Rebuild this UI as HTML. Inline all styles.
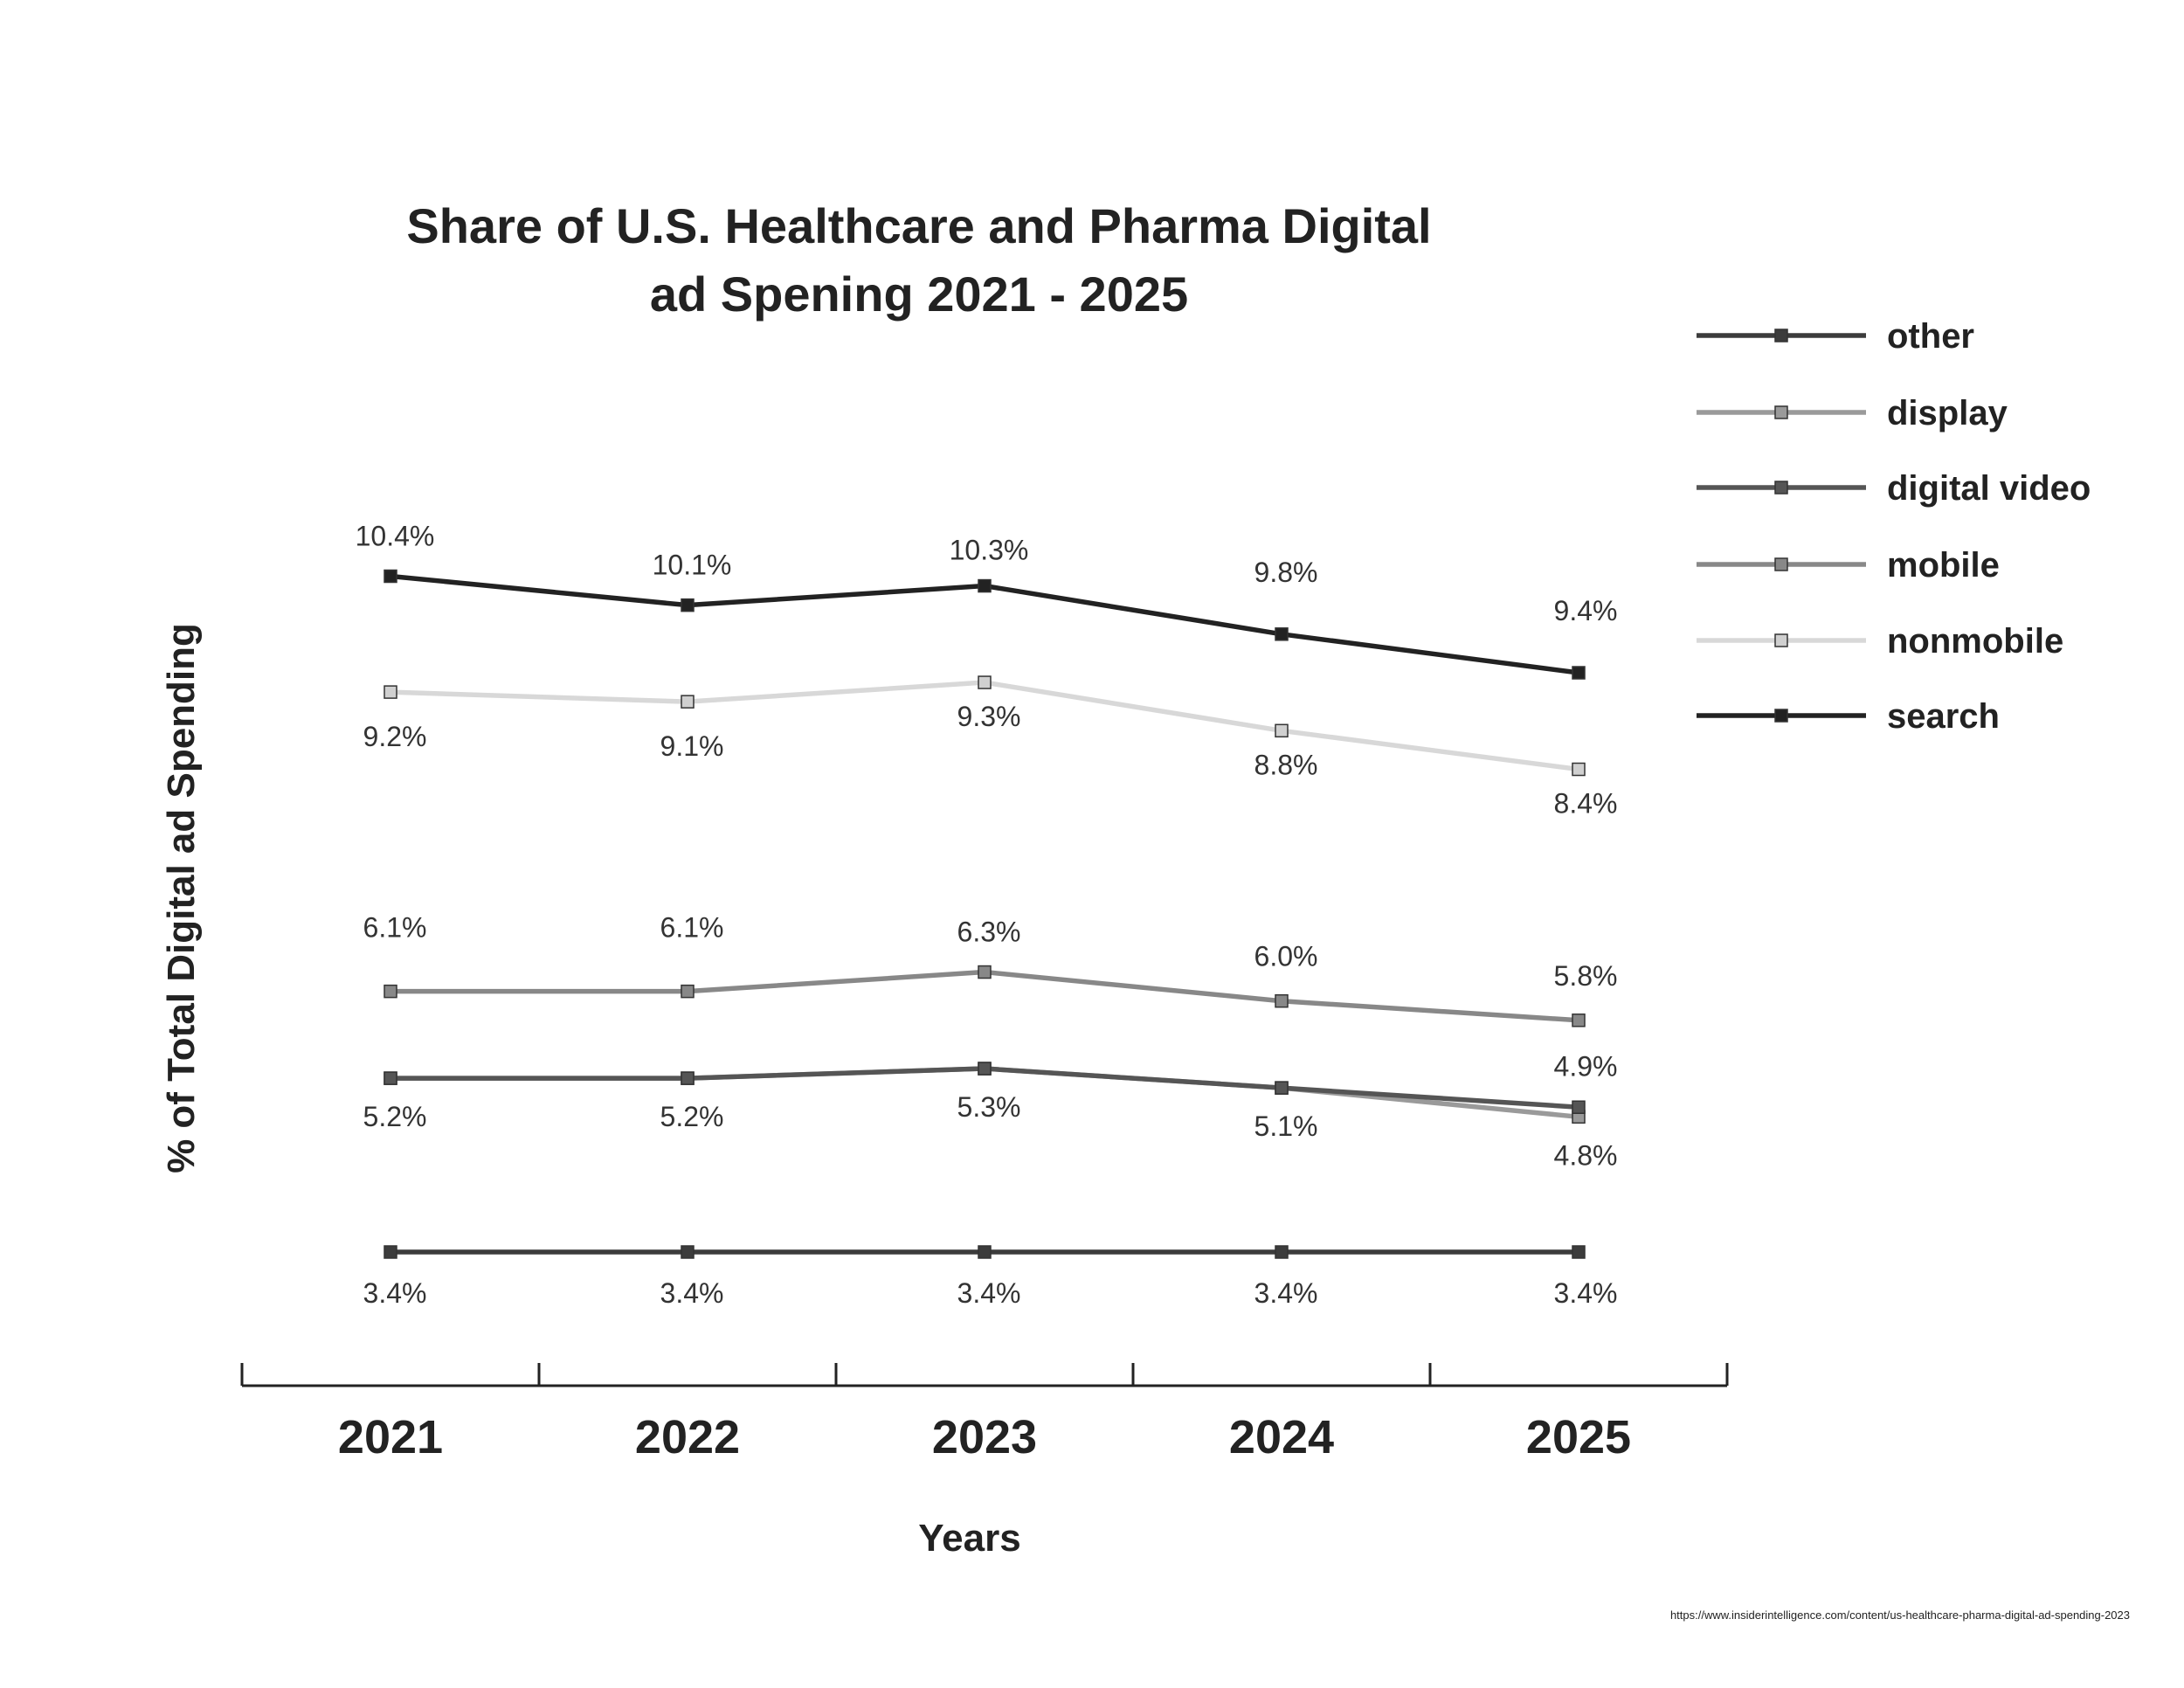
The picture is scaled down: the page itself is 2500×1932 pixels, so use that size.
<!DOCTYPE html>
<html><head><meta charset="utf-8"><style>
body{margin:0;background:#fff;}
svg{display:block;font-family:"Liberation Sans",sans-serif;}
</style></head><body>
<svg id="chart" width="2500" height="1932" viewBox="0 0 2500 1932">
<rect width="2500" height="1932" fill="#fff"/>
<text x="1052" y="278" text-anchor="middle" font-size="56" font-weight="bold" fill="#222">Share of U.S. Healthcare and Pharma Digital</text>
<text x="1052" y="356" text-anchor="middle" font-size="56" font-weight="bold" fill="#222">ad Spening 2021 - 2025</text>
<text transform="translate(222,1028) rotate(-90)" text-anchor="middle" font-size="44" font-weight="bold" fill="#222">% of Total Digital ad Spending</text>
<text x="1110" y="1775" text-anchor="middle" font-size="44" font-weight="bold" fill="#222">Years</text>
<text x="2438" y="1853" text-anchor="end" font-size="13" fill="#222">https://www.insiderintelligence.com/content/us-healthcare-pharma-digital-ad-spending-2023</text>
<g id="axis"></g>
<g id="series"></g>
<g id="legend"></g>
</svg>
<script>
const years = ["2021","2022","2023","2024","2025"];
const other = [3.4,3.4,3.4,3.4,3.4];
const display = [5.2,5.2,5.3,5.1,4.8];
const digitalVideo = [5.2,5.2,5.3,5.1,4.9];
const mobile = [6.1,6.1,6.3,6.0,5.8];
const nonmobile = [9.2,9.1,9.3,8.8,8.4];
const search = [10.4,10.1,10.3,9.8,9.4];

const NS="http://www.w3.org/2000/svg";
function mk(tag,attrs,parent){const e=document.createElementNS(NS,tag);for(const k in attrs)e.setAttribute(k,attrs[k]);parent.appendChild(e);return e;}
const x0=277,x1=1977;
const band=(x1-x0)/years.length;
function xPos(i){return x0+band*(i+0.5);}
function yPos(v){return 1433-(v-3.4)*110.5;}

const axis=document.getElementById('axis');
let base=mk('line',{x1:x0,x2:x1,y1:1586,y2:1586,stroke:'#222','stroke-width':3},axis);


for(let i=0;i<=years.length;i++){
  const t=mk('line',{x1:x0+band*i,x2:x0+band*i,y1:1560,y2:1586,stroke:'#222','stroke-width':3},axis);
  
  
}
years.forEach((y,i)=>{
  const t=mk('text',{x:xPos(i),y:1663,'text-anchor':'middle','font-size':54,'font-weight':'bold',fill:'#222'},axis);
  t.textContent=y;
  
  
});

const series=[
 {name:'other',data:other,color:'#3c3c3c',fill:'#3c3c3c',off:[58,58,58,58,58]},
 {name:'display',data:display,color:'#9a9a9a',fill:'#9a9a9a',off:[null,null,null,null,55]},
 {name:'digital video',data:digitalVideo,color:'#555',fill:'#555',off:[55,55,55,55,-36]},
 {name:'mobile',data:mobile,color:'#888',fill:'#888',off:[-62,-62,-35,-40,-40]},
 {name:'nonmobile',data:nonmobile,color:'#d8d8d8',fill:'#d0d0d0',off:[62,62,50,50,50]},
 {name:'search',data:search,color:'#222',fill:'#222',off:[-35,-35,-30,-60,-60]},
];
const sg=document.getElementById('series');
series.forEach(s=>{
  const g=mk('g',{},sg);
  
  
  const pts=s.data.map((v,i)=>xPos(i)+','+yPos(v)).join(' ');
  const pl=mk('polyline',{points:pts,fill:'none',stroke:s.color,'stroke-width':5.5},g);
  
  
  s.data.forEach((v,i)=>{
    const m=mk('rect',{x:xPos(i)-7,y:yPos(v)-7,width:14,height:14,fill:s.fill,stroke:'#333','stroke-width':1.5},g);
    
    
    if(s.off[i]!==null){
      const t=mk('text',{x:xPos(i)+(i===4?8:5),y:yPos(v)+s.off[i],'text-anchor':'middle','font-size':32,fill:'#333'},g);
      t.textContent=v.toFixed(1)+'%';
      
      
    }
  });
});

const lg=document.getElementById('legend');
const lys=[384,472,558,646,733,819];
series.forEach((s,i)=>{
  const g=mk('g',{},lg);
  
  
  mk('line',{x1:1942,x2:2136,y1:lys[i],y2:lys[i],stroke:s.color,'stroke-width':5.5},g);
  mk('rect',{x:2032,y:lys[i]-7,width:14,height:14,fill:s.fill,stroke:'#333','stroke-width':1.5},g);
  const t=mk('text',{x:2160,y:lys[i]+14,'font-size':40,'font-weight':'bold',fill:'#222'},g);
  t.textContent=s.name;
});
</script>
</body></html>
